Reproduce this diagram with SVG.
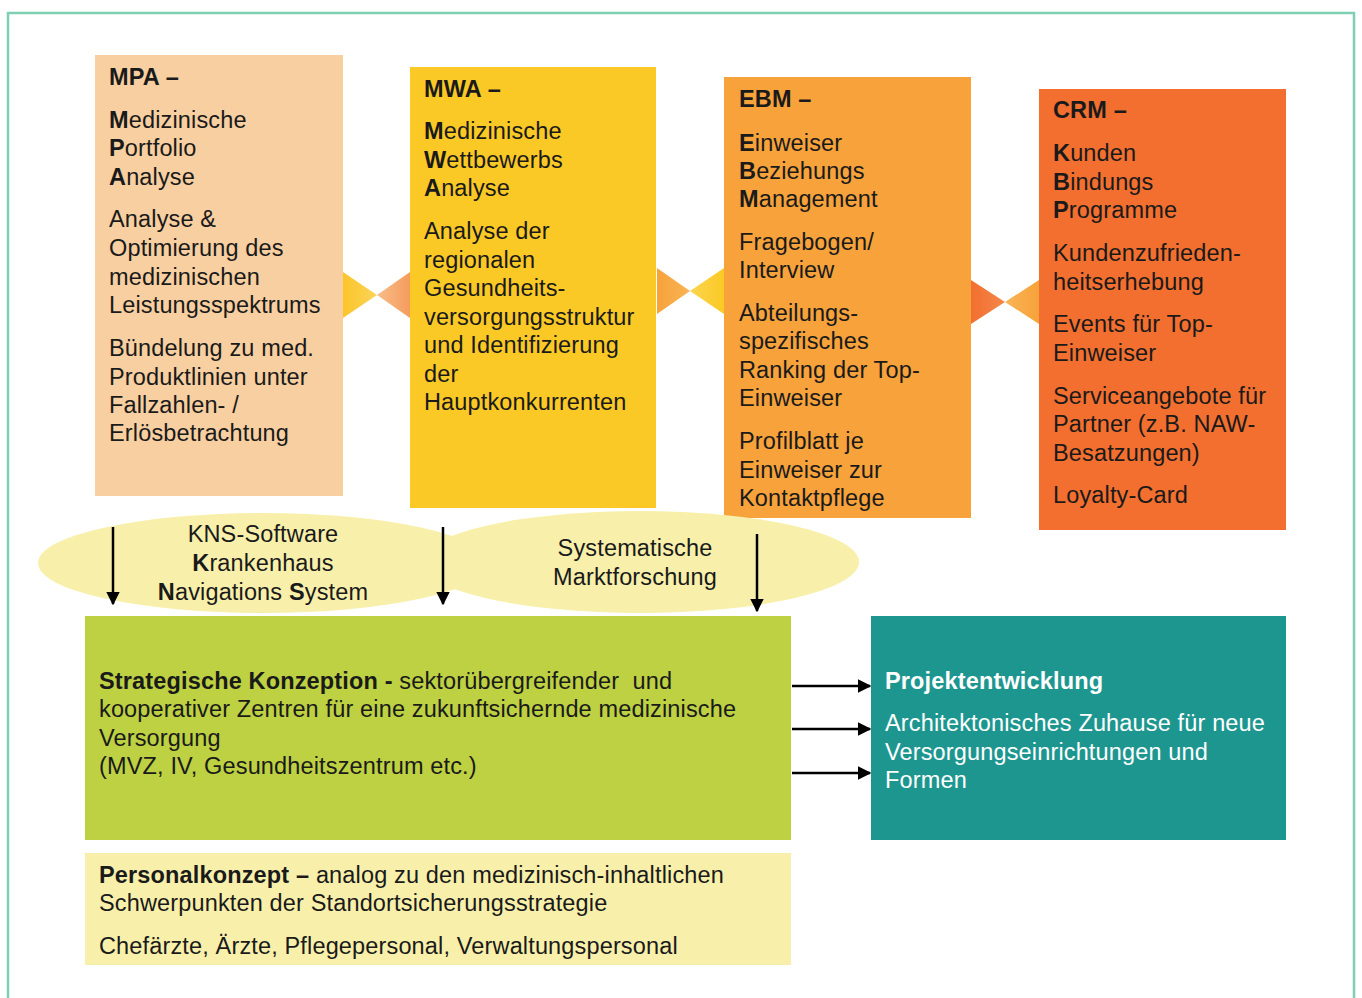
<svg xmlns="http://www.w3.org/2000/svg" width="1362" height="998" viewBox="0 0 1362 998">
<defs>
<style>
text{font-family:"Liberation Sans",Arial,sans-serif;font-size:23.5px;fill:#1a1a1a;letter-spacing:0.15px}
.b{font-weight:bold}
.w{fill:#ffffff}
.c{text-anchor:middle}
.ell{fill:#f8f0aa}
.arr{stroke:#000;stroke-width:2.5;fill:none;marker-end:url(#ah)}
</style>
<marker id="ah" viewBox="0 0 10 10" refX="9" refY="5" markerWidth="5.5" markerHeight="5.5" orient="auto" markerUnits="strokeWidth">
<path d="M0,0 L10,5 L0,10 z" fill="#000"/>
</marker>
<linearGradient id="g1l" x1="0" x2="1" y1="0" y2="0"><stop offset="0" stop-color="#fbc52a"/><stop offset="1" stop-color="#fbd45a"/></linearGradient>
<linearGradient id="g1r" x1="1" x2="0" y1="0" y2="0"><stop offset="0" stop-color="#f59c5c"/><stop offset="1" stop-color="#f8bd8a"/></linearGradient>
<linearGradient id="g2l" x1="0" x2="1" y1="0" y2="0"><stop offset="0" stop-color="#f7a23a"/><stop offset="1" stop-color="#f9b455"/></linearGradient>
<linearGradient id="g2r" x1="1" x2="0" y1="0" y2="0"><stop offset="0" stop-color="#fbc925"/><stop offset="1" stop-color="#fcd54f"/></linearGradient>
<linearGradient id="g3l" x1="0" x2="1" y1="0" y2="0"><stop offset="0" stop-color="#f26f2f"/><stop offset="1" stop-color="#f4864a"/></linearGradient>
<linearGradient id="g3r" x1="1" x2="0" y1="0" y2="0"><stop offset="0" stop-color="#f7a23a"/><stop offset="1" stop-color="#f9b455"/></linearGradient>
</defs>
<rect x="0" y="0" width="1362" height="998" fill="#ffffff"/>
<rect x="8" y="13" width="1346" height="1000" fill="none" stroke="#7fcfb3" stroke-width="2.5"/>

<g id="bowties">
<polygon points="343,272 377,295 343,318" fill="url(#g1l)"/>
<polygon points="410,272 377,295 410,318" fill="url(#g1r)"/>
<polygon points="657,268 690,291 657,314" fill="url(#g2l)"/>
<polygon points="724,268 690,291 724,314" fill="url(#g2r)"/>
<polygon points="971,280 1005,302 971,324" fill="url(#g3l)"/>
<polygon points="1039,280 1005,302 1039,324" fill="url(#g3r)"/>
</g>

<g id="mpa">
<rect x="95" y="55" width="248" height="441" fill="#f8cfa0"/>
<text x="109" y="85" class="b">MPA –</text>
<text x="109" y="128"><tspan class="b">M</tspan>edizinische</text>
<text x="109" y="156"><tspan class="b">P</tspan>ortfolio</text>
<text x="109" y="185"><tspan class="b">A</tspan>nalyse</text>
<text x="109" y="227">Analyse &amp;</text>
<text x="109" y="256">Optimierung des</text>
<text x="109" y="285">medizinischen</text>
<text x="109" y="313">Leistungsspektrums</text>
<text x="109" y="356">Bündelung zu med.</text>
<text x="109" y="385">Produktlinien unter</text>
<text x="109" y="413">Fallzahlen- /</text>
<text x="109" y="441">Erlösbetrachtung</text>
</g>

<g id="mwa">
<rect x="410" y="67" width="246" height="441" fill="#fbc925"/>
<text x="424" y="97" class="b">MWA –</text>
<text x="424" y="139"><tspan class="b">M</tspan>edizinische</text>
<text x="424" y="168"><tspan class="b">W</tspan>ettbewerbs</text>
<text x="424" y="196"><tspan class="b">A</tspan>nalyse</text>
<text x="424" y="239">Analyse der</text>
<text x="424" y="268">regionalen</text>
<text x="424" y="296">Gesundheits-</text>
<text x="424" y="325">versorgungsstruktur</text>
<text x="424" y="353">und Identifizierung</text>
<text x="424" y="382">der</text>
<text x="424" y="410">Hauptkonkurrenten</text>
</g>

<g id="ebm">
<rect x="724" y="77" width="247" height="441" fill="#f7a23a"/>
<text x="739" y="107" class="b">EBM –</text>
<text x="739" y="151"><tspan class="b">E</tspan>inweiser</text>
<text x="739" y="179"><tspan class="b">B</tspan>eziehungs</text>
<text x="739" y="207"><tspan class="b">M</tspan>anagement</text>
<text x="739" y="250">Fragebogen/</text>
<text x="739" y="278">Interview</text>
<text x="739" y="321">Abteilungs-</text>
<text x="739" y="349">spezifisches</text>
<text x="739" y="378">Ranking der Top-</text>
<text x="739" y="406">Einweiser</text>
<text x="739" y="449">Profilblatt je</text>
<text x="739" y="478">Einweiser zur</text>
<text x="739" y="506">Kontaktpflege</text>
</g>

<g id="crm">
<rect x="1039" y="89" width="247" height="441" fill="#f26f2f"/>
<text x="1053" y="118" class="b">CRM –</text>
<text x="1053" y="161"><tspan class="b">K</tspan>unden</text>
<text x="1053" y="190"><tspan class="b">B</tspan>indungs</text>
<text x="1053" y="218"><tspan class="b">P</tspan>rogramme</text>
<text x="1053" y="261">Kundenzufrieden-</text>
<text x="1053" y="290">heitserhebung</text>
<text x="1053" y="332">Events für Top-</text>
<text x="1053" y="361">Einweiser</text>
<text x="1053" y="404">Serviceangebote für</text>
<text x="1053" y="432">Partner (z.B. NAW-</text>
<text x="1053" y="461">Besatzungen)</text>
<text x="1053" y="503">Loyalty-Card</text>
</g>

<g id="kns">
<ellipse cx="263" cy="563" rx="225" ry="50" class="ell"/>
<text x="263" y="542" class="c">KNS-Software</text>
<text x="263" y="571" class="c"><tspan class="b">K</tspan>rankenhaus</text>
<text x="263" y="600" class="c"><tspan class="b">N</tspan>avigations <tspan class="b">S</tspan>ystem</text>
</g>

<g id="marktforschung">
<ellipse cx="640" cy="562" rx="219" ry="51" class="ell"/>
<text x="635" y="556" class="c">Systematische</text>
<text x="635" y="585" class="c">Marktforschung</text>
</g>

<g id="strategie">
<rect x="85" y="616" width="706" height="224" fill="#bdd142"/>
<text x="99" y="689"><tspan class="b">Strategische Konzeption -</tspan> sektorübergreifender &#160;und</text>
<text x="99" y="717">kooperativer Zentren für eine zukunftsichernde medizinische</text>
<text x="99" y="746">Versorgung</text>
<text x="99" y="774">(MVZ, IV, Gesundheitszentrum etc.)</text>
</g>

<g id="projekt">
<rect x="871" y="616" width="415" height="224" fill="#1e9690"/>
<text x="885" y="689" class="b w">Projektentwicklung</text>
<text x="885" y="731" class="w">Architektonisches Zuhause für neue</text>
<text x="885" y="760" class="w">Versorgungseinrichtungen und</text>
<text x="885" y="788" class="w">Formen</text>
</g>

<g id="personal">
<rect x="85" y="853" width="706" height="112" fill="#f8f0aa"/>
<text x="99" y="883"><tspan class="b">Personalkonzept –</tspan> analog zu den medizinisch-inhaltlichen</text>
<text x="99" y="911">Schwerpunkten der Standortsicherungsstrategie</text>
<text x="99" y="954">Chefärzte, Ärzte, Pflegepersonal, Verwaltungspersonal</text>
</g>

<g id="connectors">
<line x1="113" y1="527" x2="113" y2="604" class="arr"/>
<line x1="443" y1="527" x2="443" y2="604" class="arr"/>
<line x1="757" y1="534" x2="757" y2="611" class="arr"/>
<line x1="792" y1="686" x2="870" y2="686" class="arr"/>
<line x1="792" y1="729" x2="870" y2="729" class="arr"/>
<line x1="792" y1="773" x2="870" y2="773" class="arr"/>
</g>
</svg>
